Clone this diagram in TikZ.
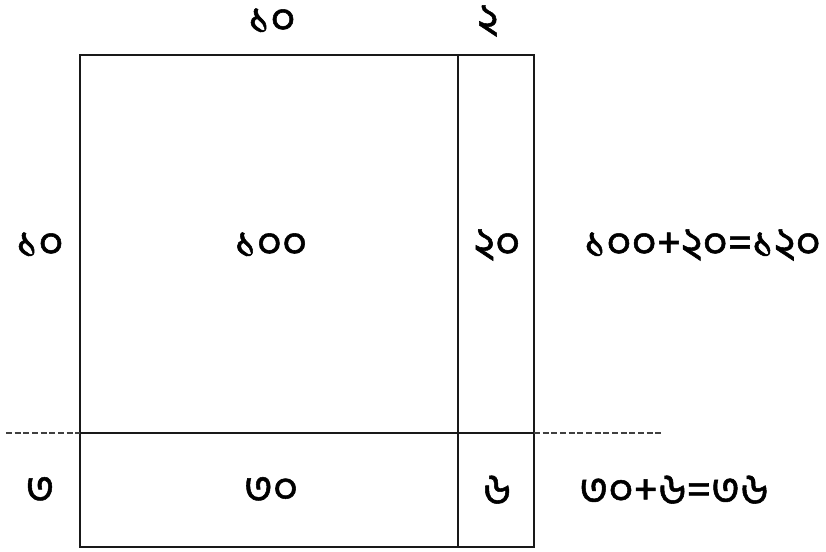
\documentclass[tikz,border=0pt]{standalone}
\usepackage{fontspec}
\newfontfamily\bnfont[Script=Bengali,FakeBold=1.2]{Hind Siliguri}
\begin{document}
\begin{tikzpicture}[x=0.75pt,y=-0.75pt,
  lbl/.style={font=\bnfont\fontsize{33}{37}\selectfont, inner sep=0pt},
  edge/.style={line width=1.6pt, draw=black!90},
  midedge/.style={line width=2.2pt, draw=black!90},
  guide/.style={line width=0.9pt, draw=black!75, dash pattern=on 4.5pt off 2pt}]
\useasboundingbox (0,0) rectangle (826,552);
\coordinate (tl) at (80,55);
\coordinate (br) at (534,547);
\coordinate (vt) at (458,55);
\coordinate (vb) at (458,547);
\coordinate (hl) at (80,433);
\coordinate (hr) at (534,433);
\coordinate (dl) at (6,433);
\coordinate (dr) at (662,433);
\draw[edge] (tl) rectangle (br);
\draw[edge] (vt) -- (vb);
\draw[midedge] (hl) -- (hr);
\draw[guide] (dl) -- (hl);
\draw[guide] (hr) -- (dr);
\node[lbl] (t1) at (272,21) {১০};
\node[lbl] (t2) at (488,21) {২};
\node[lbl] (l1) at (40,245) {১০};
\node[lbl] (c1) at (271,245) {১০০};
\node[lbl] (c2) at (497,245) {২০};
\node[lbl, anchor=west] (r1) at (584,245) {১০০+২০=১২০};
\node[lbl] (l2) at (40,490) {৩};
\node[lbl] (c3) at (271,490) {৩০};
\node[lbl] (c4) at (497,490) {৬};
\node[lbl, anchor=west] (r2) at (579,490) {৩০+৬=৩৬};
\end{tikzpicture}
\end{document}
